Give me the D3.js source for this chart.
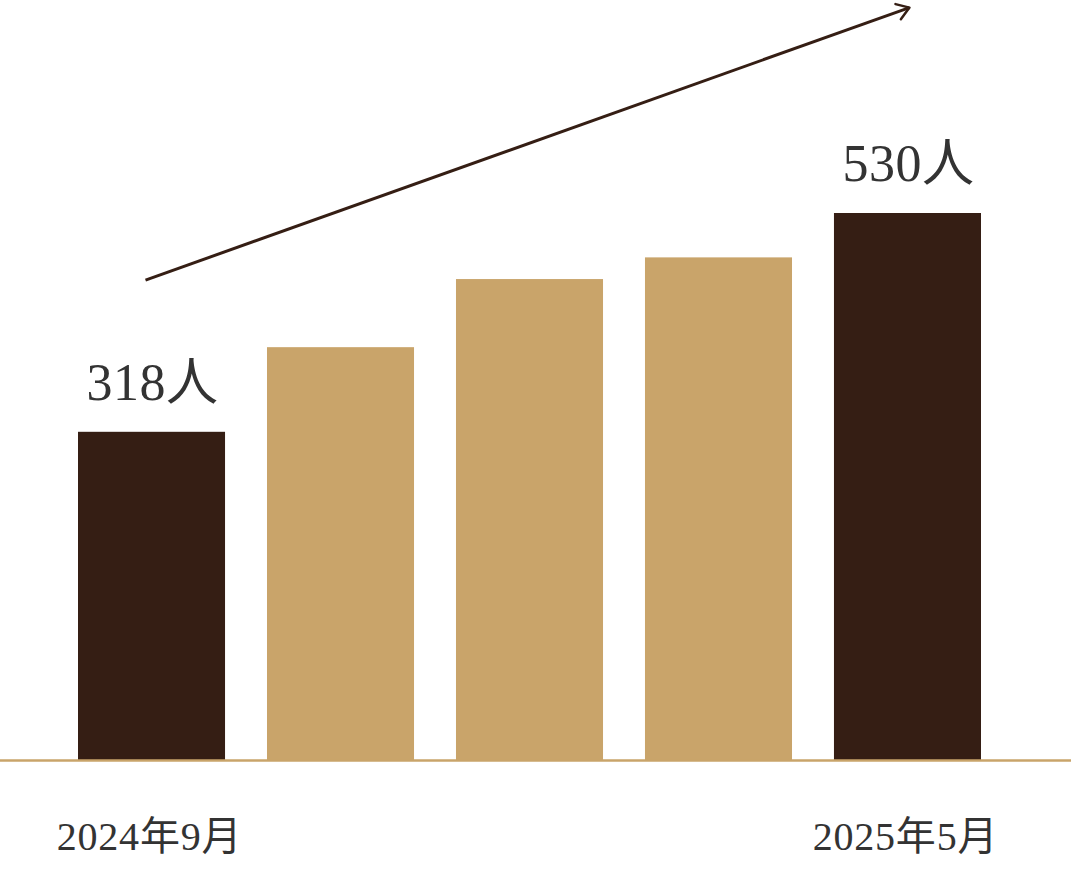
<!DOCTYPE html>
<html>
<head>
<meta charset="utf-8">
<script src="https://cdn.jsdelivr.net/npm/d3@7"></script>
<style>
  html, body { margin: 0; padding: 0; background: #fff; }
  svg { display: block; }
</style>
</head>
<body>
<section></section>
<script>
// data
var months = ["2024年9月", "2024年11月", "2025年1月", "2025年3月", "2025年5月"];
var members = [318, 400, 466, 487, 530];
var highlight = [true, false, false, false, true];
var unit = "人";
// trend arrow, in chart terms: [bar index, value]
var arrowFrom = [0, 465];
var arrowTo = [4, 729];

var width = 1071, height = 873;
var baseY = 760;
var dark = "#351e14", tan = "#c9a46a", textColor = "#333";

var svg = d3.select("section")
  .append("svg")
  .attr("width", width)
  .attr("height", height);

var xScale = d3.scaleBand()
  .domain(d3.range(months.length))
  .range([78, 981])
  .paddingInner(0.222)
  .paddingOuter(0);

var yScale = d3.scaleLinear()
  .domain([0, 530])
  .range([baseY, 213]);

var bw = xScale.bandwidth();

svg.append("g").selectAll("rect")
  .data(members)
  .enter().append("rect")
  .attr("x", function(d, i) { return xScale(i); })
  .attr("y", function(d) { return yScale(d); })
  .attr("width", bw)
  .attr("height", function(d) { return baseY - yScale(d); })
  .attr("fill", function(d, i) { return highlight[i] ? dark : tan; });

// baseline
svg.append("line")
  .attr("x1", 0).attr("x2", width)
  .attr("y1", baseY + 0.5).attr("y2", baseY + 0.5)
  .attr("stroke", tan)
  .attr("stroke-width", 2.5);

var serif = "'Liberation Serif', 'Noto Sans CJK JP', serif";

// value labels on the highlighted bars
svg.append("g").selectAll("text")
  .data(members.map(function(v, i) { return {v: v, i: i}; }).filter(function(d) { return highlight[d.i]; }))
  .enter().append("text")
  .attr("x", function(d) { return xScale(d.i) + bw / 2 + 1; })
  .attr("y", function(d) { return yScale(d.v) - 32; })
  .attr("text-anchor", "middle")
  .attr("font-family", serif)
  .attr("font-size", 52)
  .attr("letter-spacing", 0.5)
  .attr("fill", textColor)
  .text(function(d) { return d.v + unit; });

// month labels, first and last only
svg.append("g").selectAll("text")
  .data(months.map(function(m, i) { return {m: m, i: i}; }).filter(function(d) { return highlight[d.i]; }))
  .enter().append("text")
  .attr("x", function(d) { return xScale(d.i) + bw / 2 - 2; })
  .attr("y", baseY + 90)
  .attr("text-anchor", "middle")
  .attr("font-family", serif)
  .attr("font-size", 40)
  .attr("letter-spacing", 0.8)
  .attr("fill", textColor)
  .text(function(d) { return d.m; });

// trend arrow
var ax1 = xScale(arrowFrom[0]) + bw / 2 - 6, ay1 = yScale(arrowFrom[1]);
var ax2 = xScale(arrowTo[0]) + bw / 2 + 2, ay2 = yScale(arrowTo[1]);

svg.append("defs").append("marker")
  .attr("id", "head")
  .attr("viewBox", "0 0 20 20")
  .attr("refX", 18).attr("refY", 10)
  .attr("markerWidth", 20).attr("markerHeight", 20)
  .attr("markerUnits", "userSpaceOnUse")
  .attr("orient", "auto")
  .append("path")
  .attr("d", "M6,2 L18,10 L6,18")
  .attr("fill", "none")
  .attr("stroke", dark)
  .attr("stroke-width", 2.5)
  .attr("stroke-linecap", "round")
  .attr("stroke-linejoin", "round");

svg.append("line")
  .attr("x1", ax1).attr("y1", ay1)
  .attr("x2", ax2).attr("y2", ay2)
  .attr("stroke", dark)
  .attr("stroke-width", 3)
  .attr("marker-end", "url(#head)");
</script>
</body>
</html>
